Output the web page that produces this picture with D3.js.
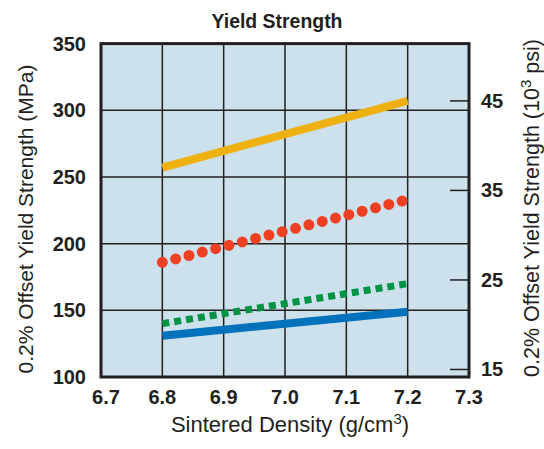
<!DOCTYPE html>
<html><head><meta charset="utf-8">
<script src="https://cdn.jsdelivr.net/npm/d3@7"></script>
<style>body{margin:0;background:#fff}svg{display:block}</style>
</head><body>
<svg id="c" width="544" height="449"></svg>
<script>
const density = [6.8, 7.2];
const yellowSeries = [257, 307];
const redSeries = [186, 233];
const greenSeries = [140, 170];
const blueSeries = [131, 149];
const xTicks = [6.7, 6.8, 6.9, 7.0, 7.1, 7.2, 7.3];
const yTicks = [100, 150, 200, 250, 300, 350];
const psiTicks = [15, 25, 35, 45];

const svg = d3.select("#c");
const L = 101, R = 469, T = 43.6, B = 377;
const x = d3.scaleLinear().domain([6.7, 7.3]).range([L, R]);
const y = d3.scaleLinear().domain([100, 350]).range([B, T]);
const yPsi = d3.scaleLinear().domain([14.16, 51.4]).range([B, T]);
const dark = "#231f20";
const font = "'Liberation Sans', Arial, Helvetica, sans-serif";

svg.append("rect").attr("x", L).attr("y", T).attr("width", R - L).attr("height", B - T).attr("fill", "#cce1eb");

// grid
svg.append("g").selectAll("line").data(xTicks.slice(1, -1)).join("line")
  .attr("x1", d => x(d)).attr("x2", d => x(d)).attr("y1", T).attr("y2", B)
  .attr("stroke", dark).attr("stroke-width", 1.5);
svg.append("g").selectAll("line").data(yTicks.slice(1, -1)).join("line")
  .attr("x1", L).attr("x2", R).attr("y1", d => y(d)).attr("y2", d => y(d))
  .attr("stroke", dark).attr("stroke-width", 1.5);

// right inner ticks
svg.append("g").selectAll("line").data(psiTicks).join("line")
  .attr("x1", R - 19).attr("x2", R).attr("y1", d => yPsi(d)).attr("y2", d => yPsi(d))
  .attr("stroke", dark).attr("stroke-width", 1.5);

// series
const pts = s => density.map((d, i) => [x(d), y(s[i])]);
const line = d3.line();
svg.append("path").attr("d", line(pts(yellowSeries))).attr("stroke", "#eeb111").attr("stroke-width", 8).attr("fill", "none");
svg.append("path").attr("d", line(pts(blueSeries))).attr("stroke", "#0072bc").attr("stroke-width", 8).attr("fill", "none");
svg.append("path").attr("d", line(pts(greenSeries))).attr("stroke", "#009245").attr("stroke-width", 7).attr("stroke-dasharray", "7,5").attr("fill", "none");
svg.append("path").attr("d", line(pts(redSeries))).attr("stroke", "#ee4124").attr("stroke-width", 11).attr("stroke-linecap", "round").attr("stroke-dasharray", "0,13.75").attr("fill", "none");

// border
svg.append("rect").attr("x", L).attr("y", T).attr("width", R - L).attr("height", B - T)
  .attr("fill", "none").attr("stroke", dark).attr("stroke-width", 3);

// tick labels
const tl = {"font-family": font, "font-weight": "bold", "font-size": "20px", "fill": dark};
svg.append("g").selectAll("text").data(yTicks).join("text")
  .attr("x", 86).attr("y", d => y(d) + 7).attr("text-anchor", "end")
  .text(d => d).each(function(){ for (const k in tl) d3.select(this).style(k, tl[k]); });
svg.append("g").selectAll("text").data(xTicks).join("text")
  .attr("x", d => x(d) + (d === 6.7 ? 5 : 0)).attr("y", 404).attr("text-anchor", "middle")
  .text(d => d.toFixed(1)).each(function(){ for (const k in tl) d3.select(this).style(k, tl[k]); });
svg.append("g").selectAll("text").data(psiTicks).join("text")
  .attr("x", 481).attr("y", d => yPsi(d) + 7).attr("text-anchor", "start")
  .text(d => d).each(function(){ for (const k in tl) d3.select(this).style(k, tl[k]); });

// title
svg.append("text").attr("x", 277).attr("y", 28).attr("text-anchor", "middle")
  .attr("textLength", 131).attr("lengthAdjust", "spacingAndGlyphs")
  .style("font-family", font).style("font-weight", "bold")
  .style("font-size", "21px").style("fill", dark).text("Yield Strength");

// axis titles
svg.append("text").attr("x", 290).attr("y", 432).attr("text-anchor", "middle")
  .style("font-family", font).style("font-size", "22px").style("fill", dark)
  .call(t => { t.append("tspan").text("Sintered Density (g/cm");
               t.append("tspan").attr("dy", -8).style("font-size", "15px").text("3");
               t.append("tspan").attr("dy", 8).text(")"); });

svg.append("text").attr("transform", "translate(33,219) rotate(-90)").attr("text-anchor", "middle")
  .style("font-family", font).style("font-size", "21px").style("fill", dark)
  .text("0.2% Offset Yield Strength (MPa)");

svg.append("text").attr("transform", "translate(539,208) rotate(-90)").attr("text-anchor", "middle")
  .style("font-family", font).style("font-size", "21.5px").style("fill", dark)
  .call(t => { t.append("tspan").text("0.2% Offset Yield Strength (10");
               t.append("tspan").attr("dy", -8).style("font-size", "15px").text("3");
               t.append("tspan").attr("dy", 8).text(" psi)"); });
</script>
</body></html>
